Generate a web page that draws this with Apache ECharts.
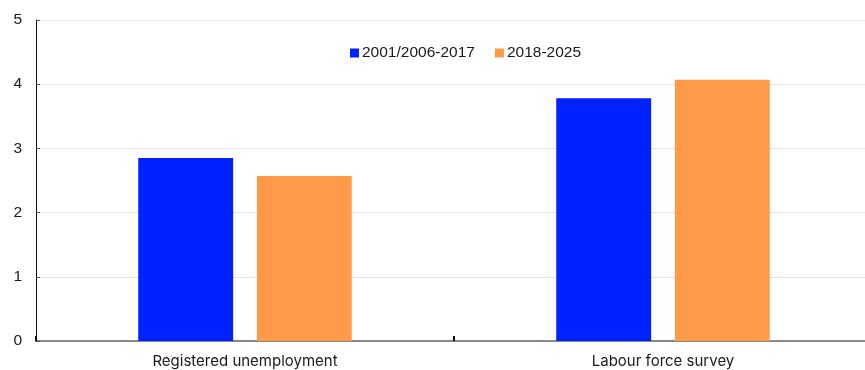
<!DOCTYPE html>
<html><head><meta charset="utf-8">
<script src="https://cdn.jsdelivr.net/npm/echarts@6/dist/echarts.min.js"></script>
<style>html,body{margin:0;padding:0;background:#fff;overflow:hidden;width:865px;height:370px}#c{width:872px;height:370px}</style>
</head><body><div id="c"></div>
<script>
const categories = ["Registered unemployment", "Labour force survey"];
const seriesNames = ["2001/2006-2017", "2018-2025"];
const valuesEarly = [2.85, 3.78];
const valuesLate = [2.57, 4.07];
const yTicks = [0, 1, 2, 3, 4, 5];

const chart = echarts.init(document.getElementById('c'), null, {renderer: 'canvas'});
const font = "'Liberation Sans', Arial, sans-serif";
chart.setOption({
  animation: false,
  textStyle: {fontFamily: font},
  legend: {
    top: 40, left: 345,
    itemWidth: 9, itemHeight: 9, itemGap: 20,
    icon: 'rect',
    textStyle: {fontFamily: font, fontSize: 15.5, color: '#1a1a1a', padding: [0,0,0,-2]},
    data: seriesNames
  },
  grid: {left: 36, right: 0, top: 20, height: 321, containLabel: false},
  xAxis: {
    type: 'category', data: categories,
    axisLine: {lineStyle: {color: '#888', width: 2}},
    axisTick: {show: true, inside: true, length: 5, lineStyle: {color: '#111', width: 2}},
    axisLabel: {fontFamily: "Inter, sans-serif", fontSize: 15, color: '#1a1a1a', margin: 13}
  },
  yAxis: {
    type: 'value', min: yTicks[0], max: yTicks[yTicks.length-1], interval: 1,
    axisLine: {show: true, lineStyle: {color: '#111', width: 1}},
    axisTick: {show: true, inside: true, length: 4, lineStyle: {color: '#555'}},
    splitLine: {lineStyle: {color: '#e3e3e3', width: 1}},
    axisLabel: {fontFamily: font, fontSize: 15.5, color: '#1a1a1a', margin: 14}
  },
  series: [
    {name: seriesNames[0], type: 'bar', data: valuesEarly, barWidth: '22.7%', barGap: '25%',
     itemStyle: {color: '#0022ff'}},
    {name: seriesNames[1], type: 'bar', data: valuesLate, barWidth: '22.7%',
     itemStyle: {color: '#ff9a48'}}
  ]
});
</script></body></html>
